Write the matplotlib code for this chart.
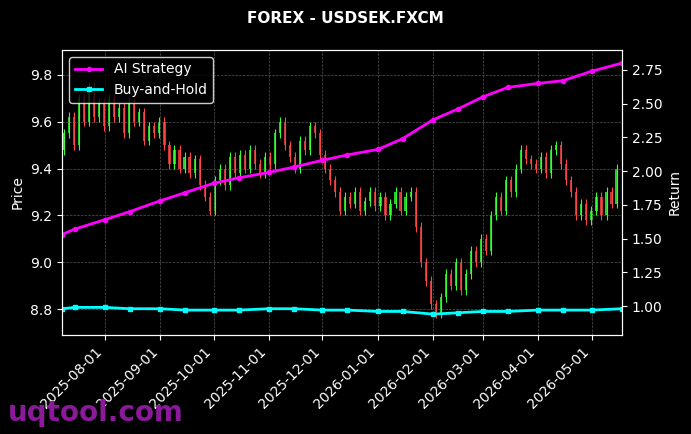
import matplotlib
matplotlib.use("Agg")
import matplotlib.pyplot as plt
import matplotlib.dates as mdates
import numpy as np
import pandas as pd

# price closes, roughly every 2 trading days
closes = [9.55, 9.62, 9.50, 9.70, 9.60, 9.75, 9.62, 9.68, 9.58,
          9.70, 9.62, 9.66, 9.55, 9.68, 9.60, 9.64, 9.52, 9.58, 9.55, 9.60,
          9.50, 9.42, 9.48, 9.40, 9.45, 9.38, 9.44, 9.33, 9.28, 9.22, 9.35,
          9.40, 9.33, 9.45, 9.38, 9.46, 9.40, 9.48, 9.42, 9.38, 9.45, 9.42,
          9.55, 9.60, 9.50, 9.45, 9.40, 9.52, 9.48, 9.58, 9.55, 9.46,
          9.40, 9.35, 9.30, 9.22, 9.28, 9.25, 9.30, 9.22, 9.26, 9.30, 9.24,
          9.28, 9.20, 9.25, 9.30, 9.22, 9.28, 9.30, 9.15, 9.00, 8.92, 8.82,
          8.78, 8.85, 8.95, 8.90, 9.00, 8.88, 8.95, 9.05, 9.00, 9.10,
          9.05, 9.20, 9.28, 9.22, 9.35, 9.30, 9.40, 9.48, 9.44, 9.42, 9.40,
          9.45, 9.38, 9.48, 9.50, 9.42, 9.35, 9.30, 9.20, 9.25, 9.18, 9.22,
          9.28, 9.20, 9.30, 9.25, 9.40]
first_open = 9.48

ret_dates = ["2025-07-08", "2025-07-15", "2025-08-01", "2025-08-15", "2025-09-01",
             "2025-09-15", "2025-10-01", "2025-10-15", "2025-11-01", "2025-11-15",
             "2025-12-01", "2025-12-15", "2026-01-01", "2026-01-15", "2026-02-01",
             "2026-02-15", "2026-03-01", "2026-03-15", "2026-04-01", "2026-04-15",
             "2026-05-01", "2026-05-18"]
ai_strategy = [1.53, 1.57, 1.64, 1.70, 1.78, 1.84, 1.91, 1.95, 1.99, 2.03, 2.08,
               2.12, 2.16, 2.24, 2.38, 2.46, 2.55, 2.62, 2.65, 2.67, 2.74, 2.80]
buy_hold = [0.98, 0.99, 0.99, 0.98, 0.98, 0.97, 0.97, 0.97, 0.98, 0.98, 0.97,
            0.97, 0.96, 0.96, 0.94, 0.95, 0.96, 0.96, 0.97, 0.97, 0.97, 0.98]

plt.rcParams["font.family"] = "DejaVu Sans"
fig = plt.figure(figsize=(6.91, 4.34), dpi=100, facecolor="black")
ax = fig.add_axes([0.09, 0.228, 0.81, 0.657], facecolor="black")
ax2 = ax.twinx()

dates = pd.date_range("2025-07-09", "2026-05-15", periods=len(closes))
opens = [first_open] + closes[:-1]
for d, o, c in zip(dates, opens, closes):
    col = "#33ff33" if c >= o else "#ff4444"
    lo, hi = min(o, c), max(o, c)
    ax.vlines(d, lo - 0.02, hi + 0.02, color=col, lw=0.8)
    ax.bar(d, hi - lo, bottom=lo, width=1.2, color=col, alpha=0.8)

rd = pd.to_datetime(ret_dates)
l1, = ax2.plot(rd, ai_strategy, color="magenta", lw=2, marker="o", ms=3, label="AI Strategy")
l2, = ax2.plot(rd, buy_hold, color="cyan", lw=2, marker="s", ms=3, label="Buy-and-Hold")

ax.set_ylim(8.689, 9.907)
ax2.set_ylim(0.785, 2.898)
ax.set_xlim(pd.Timestamp("2025-07-08"), pd.Timestamp("2026-05-18"))
ax.set_yticks([8.8, 9.0, 9.2, 9.4, 9.6, 9.8])
ax2.set_yticks([1.0, 1.25, 1.5, 1.75, 2.0, 2.25, 2.5, 2.75])
ax.xaxis.set_major_locator(mdates.MonthLocator())
ax.xaxis.set_major_formatter(mdates.DateFormatter("%Y-%m-%d"))
plt.setp(ax.get_xticklabels(), rotation=45, ha="right")
ax.grid(True, color="#555555", ls="--", lw=0.5)

for a in (ax, ax2):
    a.tick_params(colors="white", labelsize=10)
    for s in a.spines.values():
        s.set_color("white")
ax.set_ylabel("Price", color="white")
ax2.set_ylabel("Return", color="white")

leg = ax.legend([l1, l2], ["AI Strategy", "Buy-and-Hold"], loc="upper left",
                facecolor="black", edgecolor="white", labelcolor="white", fontsize=10)
fig.suptitle("FOREX - USDSEK.FXCM", color="white", fontweight="bold", fontsize=11, y=0.975)
fig.text(0.012, 0.03, "uqtool.com", color="#8b1a9b", fontsize=20, fontweight="bold")

fig.savefig("out.png", facecolor="black")
